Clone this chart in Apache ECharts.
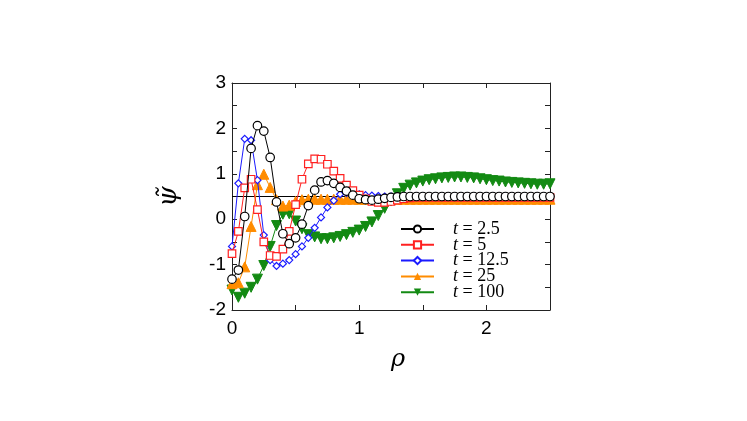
<!DOCTYPE html>
<html>
<head>
<meta charset="utf-8">
<script src="https://cdn.jsdelivr.net/npm/echarts@6/dist/echarts.min.js"></script>
<style>
html,body{margin:0;padding:0;background:#fff;}
#main{width:747px;height:421px;}
</style>
</head>
<body>
<div id="main"></div>
<script>
// rho positions of the samples
var rho=[0,0.05,0.1,0.15,0.2,0.25,0.3,0.35,0.4,0.45,
	0.5,0.55,0.6,0.65,0.7,0.75,0.8,0.85,0.9,0.95,
	1,1.05,1.1,1.15,1.2,1.25,1.3,1.35,1.4,1.45,
	1.5,1.55,1.6,1.65,1.7,1.75,1.8,1.85,1.9,1.95,
	2,2.05,2.1,2.15,2.2,2.25,2.3,2.35,2.4,2.45,2.5];

var names=['2.5','5','12.5','25','100'];

var psi_t2_5=[-1.32,-1.12,0.06,1.56,2.06,1.94,1.36,0.38,-0.32,-0.54,
	-0.41,-0.11,0.3,0.64,0.82,0.85,0.79,0.7,0.62,0.53,
	0.45,0.43,0.42,0.44,0.46,0.48,0.49,0.5,0.5,0.5,
	0.5,0.5,0.5,0.5,0.5,0.5,0.5,0.5,0.5,0.5,
	0.5,0.5,0.5,0.5,0.5,0.5,0.5,0.5,0.5,0.5,0.5];
var psi_t5=[-0.76,-0.27,0.69,0.88,0.21,-0.5,-0.8,-0.82,-0.66,-0.27,
	0.32,0.88,1.22,1.33,1.32,1.21,1.06,0.9,0.75,0.63,
	0.53,0.45,0.39,0.37,0.37,0.39,0.42,0.45,0.47,0.48,
	0.48,0.48,0.48,0.48,0.48,0.48,0.48,0.48,0.48,0.48,
	0.48,0.48,0.48,0.48,0.48,0.48,0.48,0.48,0.48,0.48,0.48];
var psi_t12_5=[-0.6,0.79,1.77,1.74,0.86,-0.35,-0.9,-1.03,-0.98,-0.9,
	-0.77,-0.6,-0.41,-0.19,0.04,0.26,0.41,0.55,0.58,0.57,
	0.55,0.53,0.52,0.51,0.5,0.5,0.5,0.5,0.5,0.5,
	0.5,0.5,0.5,0.5,0.5,0.5,0.5,0.5,0.5,0.5,
	0.5,0.5,0.5,0.5,0.5,0.5,0.5,0.5,0.5,0.5,0.5];
var psi_t25=[-1.42,-1.4,-1.05,-0.16,0.76,0.99,0.7,0.43,0.29,0.31,
	0.39,0.43,0.44,0.44,0.44,0.44,0.44,0.44,0.44,0.44,
	0.44,0.44,0.44,0.44,0.44,0.44,0.44,0.44,0.44,0.44,
	0.44,0.44,0.44,0.44,0.44,0.44,0.44,0.44,0.44,0.44,
	0.44,0.44,0.44,0.44,0.44,0.44,0.44,0.44,0.44,0.44,0.44];
var psi_t100=[-1.56,-1.72,-1.63,-1.5,-1.32,-1.02,-0.6,-0.14,0.11,0.12,
	-0.04,-0.21,-0.34,-0.39,-0.43,-0.43,-0.41,-0.38,-0.34,-0.29,
	-0.24,-0.16,-0.06,0.08,0.24,0.4,0.56,0.68,0.75,0.8,
	0.84,0.87,0.89,0.91,0.92,0.93,0.93,0.92,0.91,0.89,
	0.87,0.85,0.84,0.82,0.81,0.8,0.79,0.78,0.77,0.77,0.78];

function pairs(ys){
	var out=[];
	for(var i=0;i<rho.length;i++) out.push([rho[i],ys[i]]);
	return out;
}

function intLabel(v){
	return Math.abs(v-Math.round(v))<1e-9 ? String(Math.round(v)) : '';
}

var tickFont={fontFamily:'Liberation Sans',fontSize:19,color:'#000'};

function axisX(pos,labels){
	return {
		type:'value',position:pos,min:0,max:2.5,interval:0.5,
		axisLine:{onZero:false,lineStyle:{color:'#222',width:1}},
		axisTick:{inside:true,length:5,lineStyle:{color:'#222'}},
		axisLabel:Object.assign({show:labels,margin:9,formatter:intLabel},tickFont),
		splitLine:{show:false}
	};
}
function axisY(pos,labels){
	return {
		type:'value',position:pos,min:-2,max:3,interval:0.5,
		axisLine:{onZero:false,lineStyle:{color:'#222',width:1}},
		axisTick:{inside:true,length:5,lineStyle:{color:'#222'}},
		axisLabel:Object.assign({show:labels,margin:6,formatter:intLabel},tickFont),
		splitLine:{show:false}
	};
}

var xb=axisX('bottom',true);
xb.name='\u03C1';xb.nameLocation='middle';xb.nameGap=38;
xb.nameTextStyle={fontFamily:'DejaVu Serif',fontStyle:'italic',fontSize:24,color:'#000',padding:[0,0,0,14]};
var yl=axisY('left',true);
yl.name='\u03C8\u0303';yl.nameLocation='middle';yl.nameGap=50;yl.nameRotate=90;
yl.nameTextStyle={fontFamily:'DejaVu Serif',fontStyle:'italic',fontSize:26,color:'#000'};
var xt=axisX('top',false);
var yr=axisY('right',false);

function line(name,ys,color,symbol,size,hollow,rot,z){
	return {
		name:'t = '+name,type:'line',data:pairs(ys),
		symbol:symbol,symbolSize:size,symbolRotate:rot||0,showAllSymbol:true,
		z:z,
		lineStyle:{color:color,width:1},
		itemStyle:hollow?{color:'#fff',borderColor:color,borderWidth:1.2}:{color:color,borderColor:color},
		emphasis:{disabled:true}
	};
}

var series=[
	line(names[0],psi_t2_5,'#000000','circle',8.5,true,0,10),
	line(names[1],psi_t5,'#ff2020','rect',7.5,true,0,8),
	line(names[2],psi_t12_5,'#1a1aff','diamond',7,true,0,7),
	line(names[3],psi_t25,'#ff8c00','triangle',10,false,0,6),
	line(names[4],psi_t100,'#138a13','triangle',10,false,180,5)
];
// reference line at psi = 0.5
series[4].markLine={
	silent:true,symbol:'none',label:{show:false},animation:false,
	lineStyle:{color:'#000',type:'solid',width:1},
	data:[{yAxis:0.5}]
};

var option={
	animation:false,
	backgroundColor:'#fff',
	grid:{left:232,top:83,width:318,height:227},
	legend:{
		left:395,top:215,orient:'vertical',
		itemWidth:33,itemHeight:9,itemGap:-2.2,
		data:series.map(function(s){return s.name;}),
		formatter:function(n){return '{i|t} = {n|'+n.slice(4)+'}';},
		textStyle:{fontFamily:'Liberation Serif',fontSize:18,color:'#000',lineHeight:15,padding:[0,0,0,14],
			rich:{
				i:{fontFamily:'Liberation Serif',fontStyle:'italic',fontSize:18,lineHeight:15},
				n:{fontFamily:'Liberation Serif',fontSize:18,lineHeight:15}
			}}
	},
	xAxis:[xb,xt],
	yAxis:[yl,yr],
	series:series
};

var myChart=echarts.init(document.getElementById('main'));
myChart.setOption(option);
</script>
</body>
</html>
